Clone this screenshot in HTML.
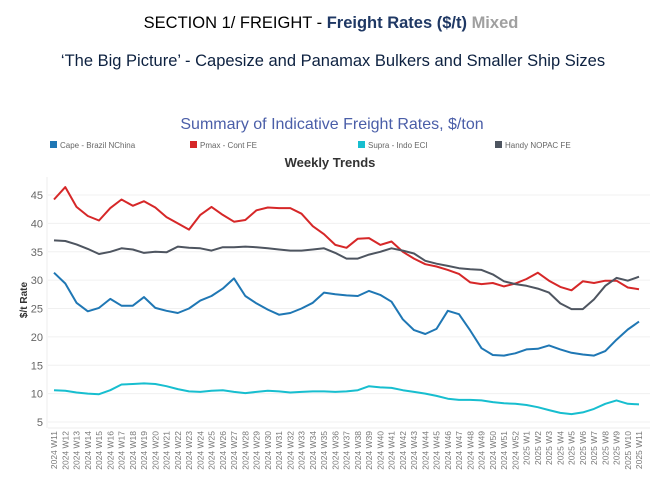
<!DOCTYPE html>
<html><head><meta charset="utf-8"><style>
body{margin:0;width:664px;height:482px;background:#fff;overflow:hidden;font-family:"Liberation Sans",sans-serif}
</style></head><body>
<svg width="664" height="482" xmlns="http://www.w3.org/2000/svg" font-family="Liberation Sans, sans-serif">
<text x="331" y="28" text-anchor="middle" font-size="16.5"><tspan fill="#000">SECTION 1/ FREIGHT - </tspan><tspan fill="#1f3864" font-weight="bold">Freight Rates ($/t) </tspan><tspan fill="#a0a0a0" font-weight="bold">Mixed</tspan></text>
<text x="333" y="66" text-anchor="middle" font-size="16.5" fill="#0d2140">‘The Big Picture’ - Capesize and Panamax Bulkers and Smaller Ship Sizes</text>
<text x="332" y="129" text-anchor="middle" font-size="16" fill="#4a5ea8">Summary of Indicative Freight Rates, $/ton</text>
<g id="legend" font-size="8" fill="#666"></g>
<text x="330" y="167" text-anchor="middle" font-size="13" font-weight="bold" fill="#333">Weekly Trends</text>
<text transform="translate(27,300) rotate(-90)" text-anchor="middle" font-size="10" font-weight="bold" fill="#333">$/t Rate</text>
<g id="grid"></g><g id="xl"></g><g id="series"></g>
</svg>
<script>
const weeks=[];for(let w=11;w<=52;w++)weeks.push('2024 W'+w);for(let w=1;w<=11;w++)weeks.push('2025 W'+w);
const yTicks=[5,10,15,20,25,30,35,40,45];
const seriesNames=['Cape - Brazil NChina','Pmax - Cont FE','Supra - Indo ECI','Handy NOPAC FE'];
const seriesColors=['#1f77b4','#d62728','#17becf','#4e5560'];
const cape=[31.3,29.4,26,24.5,25.1,26.7,25.5,25.5,27,25.1,24.6,24.2,25,26.4,27.2,28.5,30.3,27.2,25.9,24.8,23.9,24.2,25,26,27.8,27.5,27.3,27.2,28.1,27.4,26.2,23.1,21.2,20.5,21.4,24.6,24,21.1,18,16.8,16.7,17.1,17.8,17.9,18.5,17.8,17.2,16.9,16.7,17.5,19.5,21.3,22.7];
const pmax=[44.2,46.4,42.9,41.3,40.5,42.7,44.2,43.1,43.9,42.8,41.1,40,38.9,41.5,42.9,41.5,40.3,40.6,42.3,42.8,42.7,42.7,41.7,39.5,38.1,36.2,35.7,37.3,37.4,36.2,36.8,35,33.8,32.8,32.4,31.8,31.1,29.6,29.3,29.5,28.9,29.4,30.2,31.3,29.9,28.8,28.2,29.8,29.5,29.9,29.9,28.7,28.4];
const supra=[10.6,10.5,10.2,10,9.9,10.6,11.6,11.7,11.8,11.7,11.3,10.8,10.4,10.3,10.5,10.6,10.3,10.1,10.3,10.5,10.4,10.2,10.3,10.4,10.4,10.3,10.4,10.6,11.3,11.1,11,10.6,10.3,10,9.6,9.1,8.9,8.9,8.8,8.5,8.3,8.2,8,7.6,7.1,6.6,6.4,6.7,7.3,8.2,8.8,8.2,8.1];
const handy=[37,36.9,36.3,35.5,34.6,35,35.6,35.4,34.8,35,34.9,35.9,35.7,35.6,35.2,35.8,35.8,35.9,35.8,35.6,35.4,35.2,35.2,35.4,35.6,34.8,33.8,33.8,34.5,35,35.6,35.2,34.7,33.4,32.9,32.5,32.1,31.9,31.8,31,29.8,29.3,29,28.5,27.8,25.9,24.9,24.9,26.6,29,30.4,29.9,30.6];
const NS='http://www.w3.org/2000/svg';
const X0=54,X1=639,Y0=422,Y1=195;
const xs=i=>X0+(X1-X0)*i/(weeks.length-1);
const ys=v=>Y0+(v-5)*(Y1-Y0)/40;
function mk(t,a,p){const e=document.createElementNS(NS,t);for(const k in a)e.setAttribute(k,a[k]);p.appendChild(e);return e;}
const grid=document.getElementById('grid');
mk('line',{x1:47,x2:47,y1:177,y2:428,stroke:'#eee'},grid);
yTicks.forEach(v=>{
  const l=mk('line',{x1:48,x2:650,y1:ys(v),y2:ys(v),stroke:'#f0f0f0'},grid);
  
  
  const t=mk('text',{x:43,y:ys(v)+4,'text-anchor':'end','font-size':11,fill:'#666'},grid);
  t.textContent=v;
  
  
});
mk('line',{x1:48,x2:650,y1:428,y2:428,stroke:'#eee'},grid);
const xl=document.getElementById('xl');
weeks.forEach((w,i)=>{
  const t=mk('text',{transform:`translate(${xs(i)+3},431) rotate(-90)`,'text-anchor':'end','font-size':8.5,fill:'#777'},xl);
  t.textContent=w;
  
  
});
const sg=document.getElementById('series');
[cape,pmax,supra,handy].forEach((arr,si)=>{
  const p=mk('polyline',{points:arr.map((v,i)=>xs(i).toFixed(1)+','+ys(v).toFixed(1)).join(' '),fill:'none',stroke:seriesColors[si],'stroke-width':2,'stroke-linejoin':'round'},sg);
  
  
});
const lg=document.getElementById('legend');
const lx=[50,190,358,495];
seriesNames.forEach((n,i)=>{
  const r=mk('rect',{x:lx[i],y:141,width:7,height:7,fill:seriesColors[i]},lg);
  
  
  const t=mk('text',{x:lx[i]+10,y:148,'font-size':8,fill:'#666'},lg);
  t.textContent=n;
  
  
});
</script>
</body></html>
